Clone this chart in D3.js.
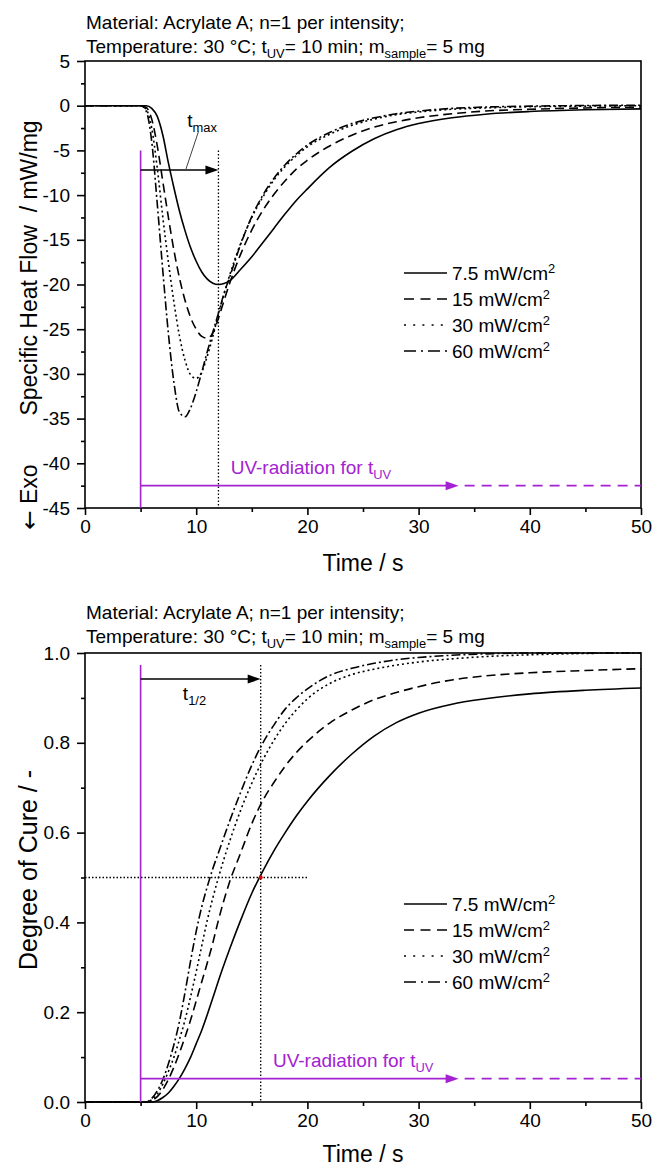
<!DOCTYPE html>
<html>
<head>
<meta charset="utf-8">
<script src="https://cdn.jsdelivr.net/npm/d3@7"></script>
<style>
  body { margin: 0; background: #fff; }
  svg text { font-family: "Liberation Sans", Arial, sans-serif; fill: #000; }
</style>
</head>
<body>
<svg id="chart" width="653" height="1169"></svg>
<script>
// ---------- heat flow (DSC) ----------
const timeHF = [0,5,5.5,6,6.5,7,7.5,8,8.5,9,9.5,10,10.5,11,11.5,12,12.5,13,14,15,16,17,18,19,20,22,24,26,28,30,33,36,40,45,50];
const hf7_5 = [0,0,0,-0.3,-1.2,-3.3,-6.4,-9.2,-11.8,-14.0,-15.9,-17.4,-18.6,-19.4,-19.85,-20.0,-19.9,-19.6,-18.3,-16.9,-15.3,-13.7,-12.1,-10.6,-9.3,-6.9,-5.1,-3.7,-2.7,-2.0,-1.35,-0.95,-0.65,-0.45,-0.35];
const hf15  = [0,0,-0.2,-1.5,-4.5,-8.5,-12.5,-16.2,-19.3,-21.8,-23.7,-25.0,-25.8,-26.0,-25.4,-23.8,-21.8,-19.9,-16.6,-13.9,-11.7,-9.9,-8.4,-7.1,-6.1,-4.5,-3.3,-2.4,-1.8,-1.35,-0.9,-0.6,-0.4,-0.25,-0.15];
const hf30  = [0,0,-0.4,-2.5,-7,-12.5,-17.5,-22,-25.8,-28.5,-30.1,-30.5,-29.8,-28.0,-25.8,-23.3,-21.1,-19.0,-15.4,-12.5,-10.2,-8.3,-6.8,-5.6,-4.6,-3.2,-2.2,-1.5,-1.0,-0.7,-0.4,-0.25,-0.12,-0.05,0.0];
const hf60  = [0,0,-0.6,-4,-11,-18.5,-25.5,-31,-34.3,-34.8,-33.8,-32.0,-29.8,-27.5,-25.3,-23.2,-21.0,-19.2,-15.5,-12.4,-10.0,-8.1,-6.6,-5.4,-4.4,-3.0,-2.0,-1.35,-0.9,-0.6,-0.3,-0.15,-0.05,0.02,0.05];

// ---------- degree of cure ----------
const timeDC = [0,5.5,6,6.5,7,7.5,8,8.5,9,9.5,10,10.5,11,11.5,12,13,14,15,16,17,18,19,20,22,24,26,28,30,33,36,40,45,50];
const dc7_5 = [0,0,0,0.003,0.01,0.02,0.035,0.053,0.075,0.1,0.13,0.16,0.195,0.232,0.27,0.34,0.405,0.465,0.515,0.56,0.6,0.637,0.67,0.727,0.775,0.815,0.845,0.866,0.886,0.898,0.909,0.917,0.922];
const dc15  = [0,0,0.003,0.012,0.028,0.05,0.078,0.11,0.145,0.183,0.225,0.268,0.31,0.355,0.405,0.49,0.555,0.62,0.672,0.712,0.748,0.778,0.803,0.844,0.873,0.896,0.912,0.925,0.94,0.949,0.956,0.961,0.965];
const dc30  = [0,0,0.005,0.018,0.04,0.068,0.1,0.14,0.183,0.235,0.29,0.348,0.405,0.455,0.5,0.58,0.65,0.71,0.762,0.806,0.843,0.873,0.898,0.932,0.952,0.964,0.973,0.98,0.987,0.992,0.996,0.999,1.0];
const dc60  = [0,0,0.008,0.025,0.05,0.085,0.128,0.18,0.245,0.315,0.38,0.435,0.48,0.52,0.555,0.625,0.69,0.75,0.8,0.84,0.875,0.9,0.92,0.95,0.966,0.977,0.985,0.99,0.995,0.998,1.0,1.0,1.0];

// ---------- series, ticks, annotations ----------
const intensities = ["7.5", "15", "30", "60"];
const xTicks = [0, 10, 20, 30, 40, 50];
const xMinor = [5, 15, 25, 35, 45];
const hfTicks = [5, 0, -5, -10, -15, -20, -25, -30, -35, -40, -45];
const hfMinor = [2.5, -2.5, -7.5, -12.5, -17.5, -22.5, -27.5, -32.5, -37.5, -42.5];
const dcTicks = [0, 0.2, 0.4, 0.6, 0.8, 1.0];
const dcMinor = [0.1, 0.3, 0.5, 0.7, 0.9];

const tUVon = 5;         // UV lamp switched on
const tMax = 12;         // time of heat-flow peak (7.5 mW/cm²)
const tHalf = 15.8;      // time to 50 % conversion (7.5 mW/cm²)
const uvArrowEnd = 33.6;

const MAGENTA = "#a322d2";
const dashStyles = [null, "9,5", "2,3", "9,3,2,3"];
const legendDash = [null, "10,6.5", "2,7.2", "12,5,2,5"];

const svg = d3.select("#chart");

const x = d3.scaleLinear().domain([0, 50]).range([85, 641]);
const yHF = d3.scaleLinear().domain([-45, 5]).range([508, 61]);
const yDC = d3.scaleLinear().domain([0, 1]).range([1102, 653]);

function sub(textSel, parts) {
  // parts: [text, "sub"|"sup"|null]
  let shift = 0;
  parts.forEach(([t, kind]) => {
    const target = kind === "sub" ? 5 : kind === "sup" ? -7 : 0;
    const ts = textSel.append("tspan").text(t).attr("dy", target - shift);
    if (kind) ts.attr("font-size", "0.68em");
    shift = target;
  });
}

function frame(y, yTicks, yMinor, yFmt) {
  const g = svg.append("g");
  const [yb, yt] = y.range();
  const axB = g.append("g").attr("transform", `translate(0,${yb})`)
    .call(d3.axisBottom(x).tickValues(xTicks).tickSize(7).tickPadding(5).tickFormat(d3.format("d")));
  const axBm = g.append("g").attr("transform", `translate(0,${yb})`)
    .call(d3.axisBottom(x).tickValues(xMinor).tickSize(4).tickFormat(""));
  const axL = g.append("g").attr("transform", `translate(${x(0)},0)`)
    .call(d3.axisLeft(y).tickValues(yTicks).tickSize(8).tickPadding(7).tickFormat(yFmt));
  const axLm = g.append("g").attr("transform", `translate(${x(0)},0)`)
    .call(d3.axisLeft(y).tickValues(yMinor).tickSize(4).tickFormat(""));
  [axB, axBm, axL, axLm].forEach(a => {
    a.select(".domain").remove();
    a.selectAll(".tick line").attr("stroke", "#000").attr("stroke-width", 1.6);
    a.selectAll(".tick text").attr("font-size", 19).attr("font-family", '"Liberation Sans", Arial, sans-serif').attr("fill", "#000");
  });
  g.append("rect")
    .attr("x", x(0)).attr("y", yt)
    .attr("width", x(50) - x(0)).attr("height", yb - yt)
    .attr("fill", "none").attr("stroke", "#000").attr("stroke-width", 1.6);
  return g;
}

function header(yLine1) {
  svg.append("text").attr("x", 86).attr("y", yLine1).attr("font-size", 19)
    .text("Material: Acrylate A; n=1 per intensity;");
  const t2 = svg.append("text").attr("x", 86).attr("y", yLine1 + 24).attr("font-size", 19);
  sub(t2, [["Temperature: 30 °C; t", null], ["UV", "sub"], ["= 10 min; m", null], ["sample", "sub"], ["= 5 mg", null]]);
}

function curves(g, y, times, seriesList) {
  const line = d3.line().x((d, i) => x(times[i])).y(d => y(d)).curve(d3.curveMonotoneX);
  seriesList.forEach((vals, k) => {
    g.append("path").datum(vals)
      .attr("d", line)
      .attr("fill", "none").attr("stroke", "#000").attr("stroke-width", 1.6)
      .attr("stroke-dasharray", dashStyles[k]);
  });
}

function legend(yFirst) {
  intensities.forEach((lab, k) => {
    const yy = yFirst + k * 26;
    svg.append("line").attr("x1", 404).attr("x2", 447).attr("y1", yy).attr("y2", yy)
      .attr("stroke", "#000").attr("stroke-width", 1.6).attr("stroke-dasharray", legendDash[k]);
    const t = svg.append("text").attr("x", 452).attr("y", yy + 7).attr("font-size", 19);
    sub(t, [[lab + " mW/cm", null], ["2", "sup"]]);
  });
}

function arrowHead(xTip, yy, color) {
  svg.append("path")
    .attr("d", `M${xTip},${yy} L${xTip - 13},${yy - 4.5} L${xTip - 13},${yy + 4.5} Z`)
    .attr("fill", color);
}

function uvBar(y, level, textT) {
  const yy = y(level);
  svg.append("line").attr("x1", x(tUVon)).attr("x2", x(uvArrowEnd) - 10).attr("y1", yy).attr("y2", yy)
    .attr("stroke", MAGENTA).attr("stroke-width", 1.6);
  arrowHead(x(uvArrowEnd), yy, MAGENTA);
  svg.append("line").attr("x1", x(uvArrowEnd) + 6).attr("x2", x(50)).attr("y1", yy).attr("y2", yy)
    .attr("stroke", MAGENTA).attr("stroke-width", 1.6).attr("stroke-dasharray", "10,7");
  const t = svg.append("text").attr("x", x(textT)).attr("y", yy - 12).attr("font-size", 19)
    .style("fill", MAGENTA);
  sub(t, [["UV-radiation for t", null], ["UV", "sub"]]);
}

// ================= upper panel: heat flow =================
header(29);
const g1 = frame(yHF, hfTicks, hfMinor, d => String(d));
curves(g1, yHF, timeHF, [hf7_5, hf15, hf30, hf60]);

// UV-on marker and t_max construction
svg.append("line").attr("x1", x(tUVon)).attr("x2", x(tUVon)).attr("y1", yHF(-5)).attr("y2", yHF(-45))
  .attr("stroke", MAGENTA).attr("stroke-width", 1.6);
svg.append("line").attr("x1", x(tMax)).attr("x2", x(tMax)).attr("y1", yHF(-5)).attr("y2", yHF(-45))
  .attr("stroke", "#000").attr("stroke-width", 1.3).attr("stroke-dasharray", "1.5,2");
svg.append("line").attr("x1", x(tUVon)).attr("x2", x(tMax) - 10).attr("y1", yHF(-7.2)).attr("y2", yHF(-7.2))
  .attr("stroke", "#000").attr("stroke-width", 1.6);
arrowHead(x(tMax), yHF(-7.2), "#000");
svg.append("line").attr("x1", x(10.2)).attr("y1", yHF(-2.9)).attr("x2", x(9.05)).attr("y2", yHF(-7.2))
  .attr("stroke", "#444").attr("stroke-width", 1);
const tm = svg.append("text").attr("x", x(9.2)).attr("y", 127).attr("font-size", 19);
sub(tm, [["t", null], ["max", "sub"]]);

uvBar(yHF, -42.5, 13.1);
legend(273);

svg.append("text").attr("transform", `translate(37,268) rotate(-90)`).attr("text-anchor", "middle")
  .attr("font-size", 23).attr("xml:space", "preserve").text("Specific Heat Flow  / mW/mg");
const exo = svg.append("text").attr("transform", `translate(37,497) rotate(-90)`).attr("text-anchor", "middle")
  .attr("font-size", 23).attr("xml:space", "preserve");
exo.append("tspan").attr("font-family", '"DejaVu Sans", sans-serif').text("←");
exo.append("tspan").text(" Exo");
svg.append("text").attr("x", x(25)).attr("y", 571).attr("text-anchor", "middle")
  .attr("font-size", 23).text("Time / s");

// ================= lower panel: degree of cure =================
header(619);
const g2 = frame(yDC, dcTicks, dcMinor, d3.format(".1f"));
curves(g2, yDC, timeDC, [dc7_5, dc15, dc30, dc60]);

svg.append("line").attr("x1", x(tUVon)).attr("x2", x(tUVon)).attr("y1", yDC(0.973)).attr("y2", yDC(0))
  .attr("stroke", MAGENTA).attr("stroke-width", 1.6);
svg.append("line").attr("x1", x(tHalf)).attr("x2", x(tHalf)).attr("y1", yDC(0.973)).attr("y2", yDC(0))
  .attr("stroke", "#000").attr("stroke-width", 1.3).attr("stroke-dasharray", "1.5,2");
svg.append("line").attr("x1", x(0)).attr("x2", x(20)).attr("y1", yDC(0.5)).attr("y2", yDC(0.5))
  .attr("stroke", "#000").attr("stroke-width", 1.3).attr("stroke-dasharray", "1.5,2");
svg.append("circle").attr("cx", x(tHalf)).attr("cy", yDC(0.5)).attr("r", 2).attr("fill", "#e00000");
svg.append("line").attr("x1", x(tUVon)).attr("x2", x(tHalf) - 10).attr("y1", yDC(0.942)).attr("y2", yDC(0.942))
  .attr("stroke", "#000").attr("stroke-width", 1.6);
arrowHead(x(tHalf), yDC(0.942), "#000");
const th = svg.append("text").attr("x", x(8.8)).attr("y", 700).attr("font-size", 19);
sub(th, [["t", null], ["1/2", "sub"]]);

uvBar(yDC, 0.052, 16.9);
legend(904);

svg.append("text").attr("transform", `translate(37,870) rotate(-90)`).attr("text-anchor", "middle")
  .attr("font-size", 25).text("Degree of Cure / -");
svg.append("text").attr("x", x(25)).attr("y", 1162).attr("text-anchor", "middle")
  .attr("font-size", 23).text("Time / s");
</script>
</body>
</html>
